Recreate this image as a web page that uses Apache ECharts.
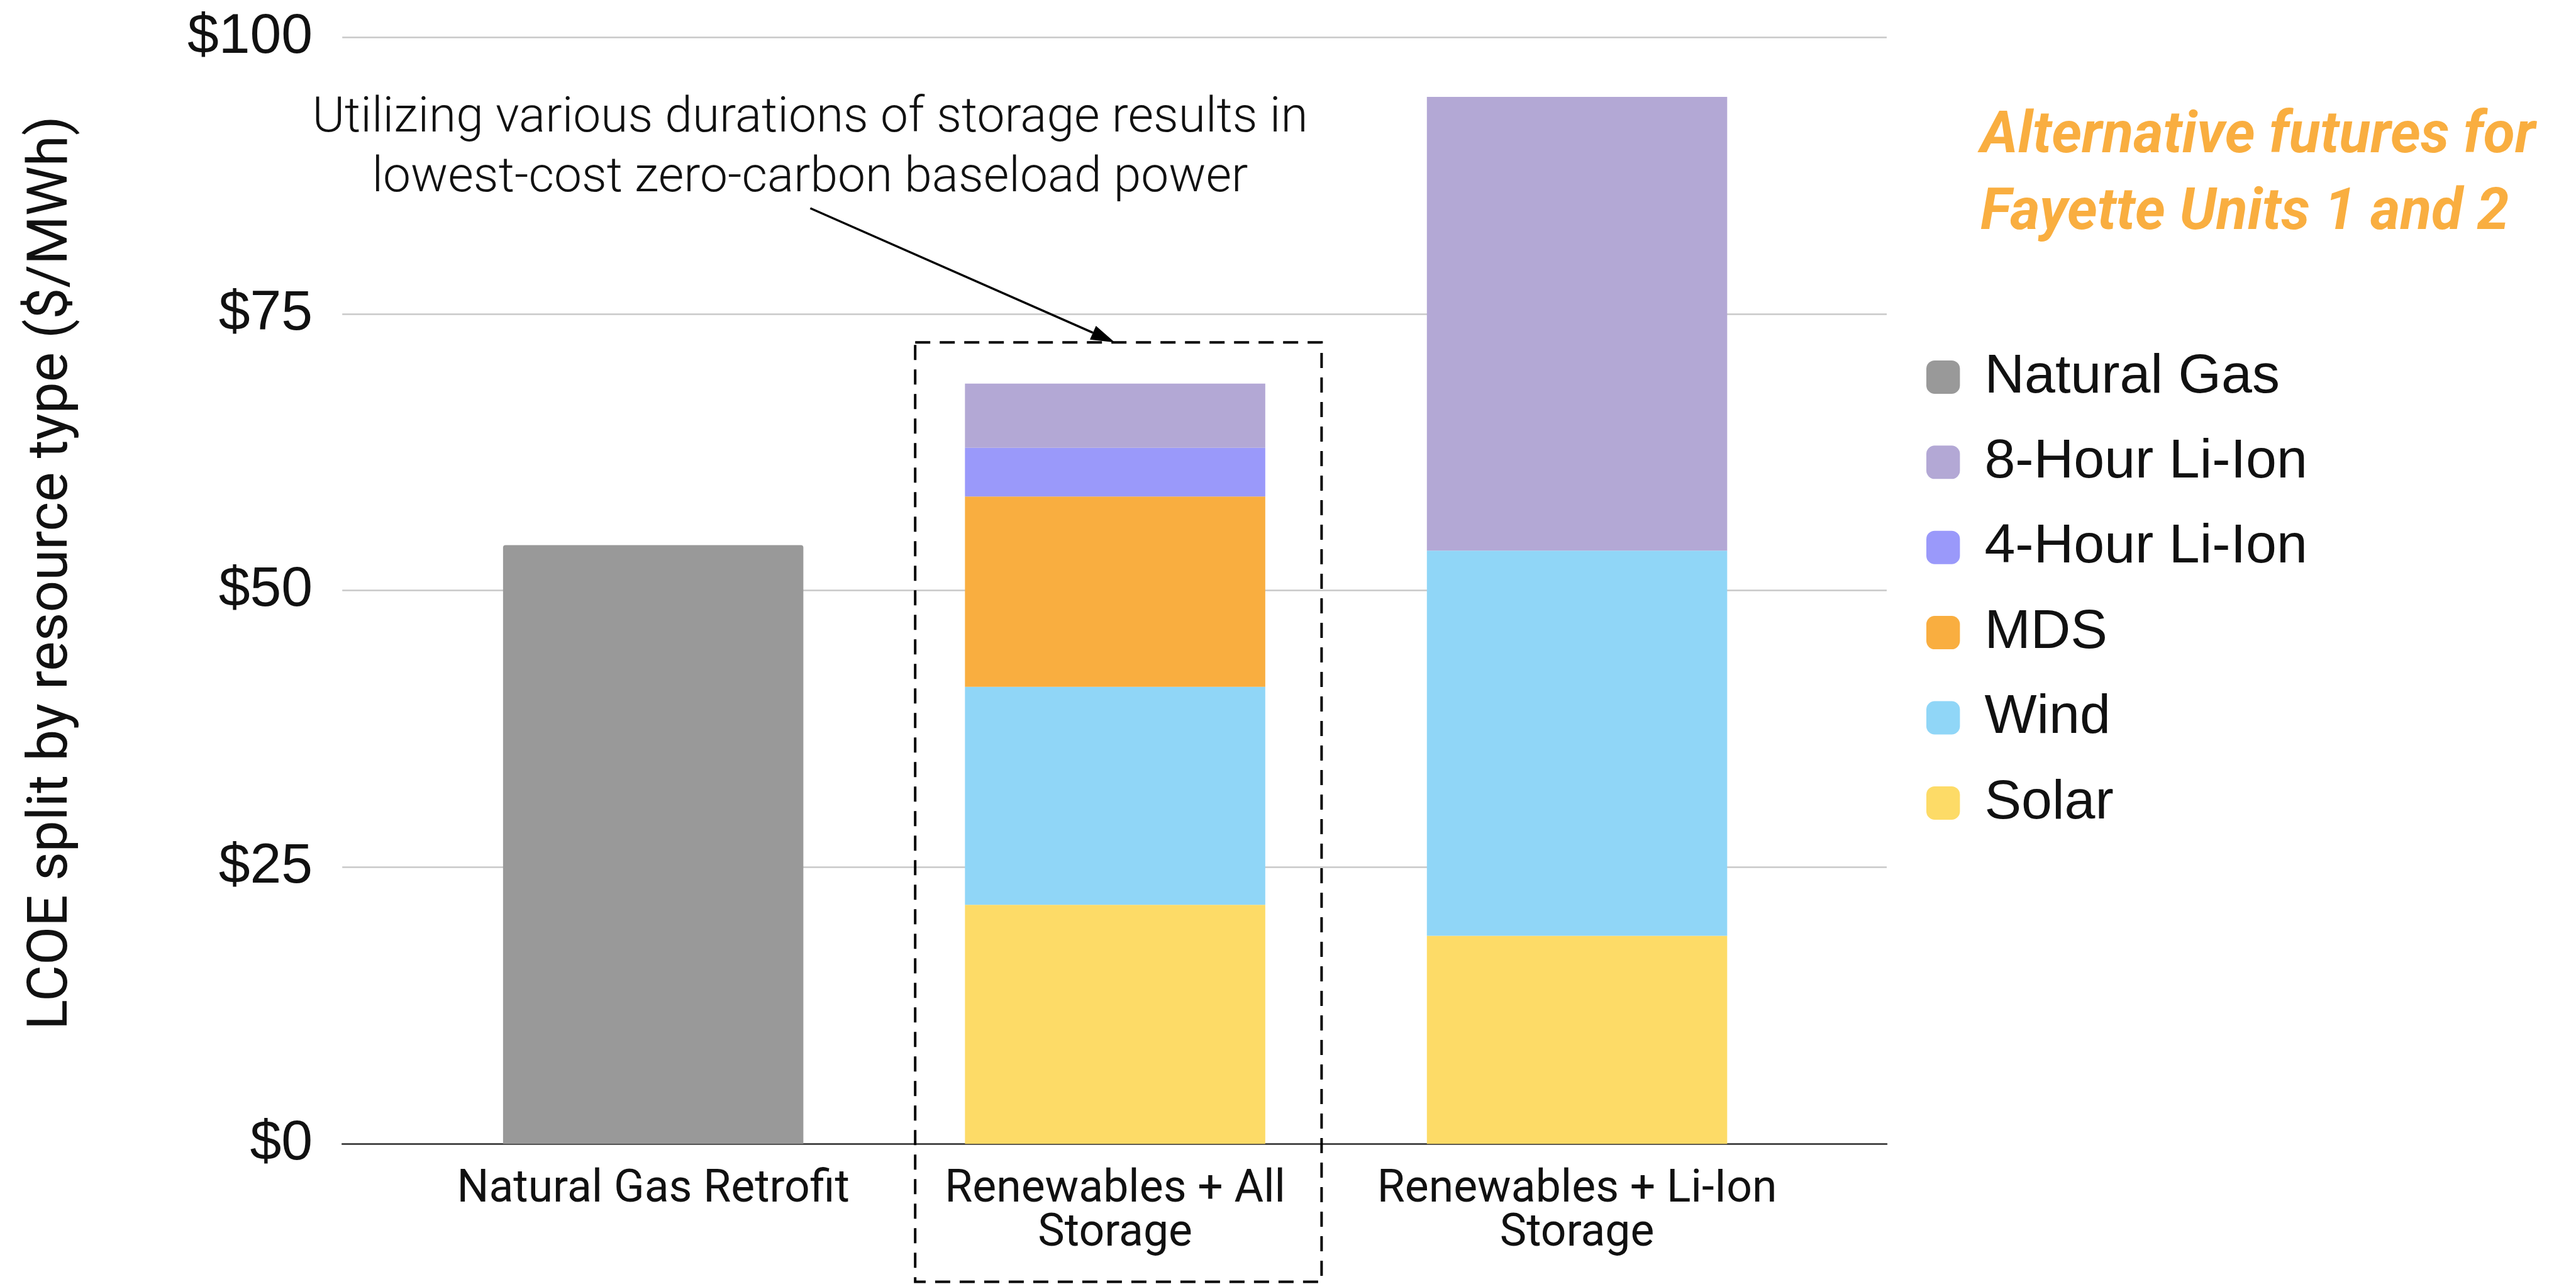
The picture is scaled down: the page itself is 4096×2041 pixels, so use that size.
<!DOCTYPE html>
<html>
<head>
<meta charset="utf-8">
<style>
  html, body { margin: 0; padding: 0; background: #ffffff; }
  #chart { width: 4096px; height: 2041px; }
</style>
<script src="https://cdn.jsdelivr.net/npm/echarts@6/dist/echarts.min.js"></script>
</head>
<body>
<div id="chart"></div>
<script>
// Levelized cost of energy by scenario, split by resource type ($/MWh)
const categories = ['Natural Gas Retrofit', 'Renewables + All Storage', 'Renewables + Li-Ion Storage'];
const yTicks = { min: 0, max: 100, step: 25 };

const naturalGas = [54.1, '-', '-'];
const solar      = ['-', 21.6, 18.8];
const wind       = ['-', 19.7, 34.8];
const mds        = ['-', 17.2, '-'];
const liIon4h    = ['-', 4.4, '-'];
const liIon8h    = ['-', 5.8, 41.0];

const legendOrder = ['Natural Gas', '8-Hour Li-Ion', '4-Hour Li-Ion', 'MDS', 'Wind', 'Solar'];

const colors = {
  'Natural Gas': '#999999',
  '8-Hour Li-Ion': '#B3A8D5',
  '4-Hour Li-Ion': '#9A99FA',
  'MDS': '#F9AE40',
  'Wind': '#90D6F7',
  'Solar': '#FDDB67'
};

const plotTop = 59.1;
const plotHeight = 1759.2;

function barSeries(name, data, extra) {
  return Object.assign({
    name: name,
    type: 'bar',
    stack: 'lcoe',
    xAxisIndex: 1,
    yAxisIndex: 1,
    barWidth: 477.5,
    data: data,
    itemStyle: { color: colors[name] },
    emphasis: { disabled: true }
  }, extra || {});
}

const chart = echarts.init(document.getElementById('chart'), null, { renderer: 'canvas' });

// arrow from the note down to the highlighted scenario box
const tail = [1288.4, 331];
const tip = [1772.6, 544.2];
const len = Math.hypot(tip[0] - tail[0], tip[1] - tail[1]);
const ux = (tip[0] - tail[0]) / len, uy = (tip[1] - tail[1]) / len;
const headLen = 38, headHalf = 12;
const base = [tip[0] - ux * headLen, tip[1] - uy * headLen];
const head = [
  tip,
  [base[0] - uy * headHalf, base[1] + ux * headHalf],
  [base[0] + uy * headHalf, base[1] - ux * headHalf]
];

chart.setOption({
  backgroundColor: '#ffffff',
  animation: false,
  title: {
    text: 'Alternative futures for\nFayette Units 1 and 2',
    left: 3149,
    top: 157.7,
    padding: 0,
    textStyle: {
      fontFamily: 'Roboto',
      fontStyle: 'italic',
      fontWeight: 'bold',
      fontSize: 91.5,
      lineHeight: 122,
      color: '#F9AE40'
    }
  },
  legend: {
    orient: 'vertical',
    left: 3063,
    top: 555.4,
    padding: 0,
    itemWidth: 53.4,
    itemHeight: 53,
    itemGap: 47.4,
    icon: 'roundRect',
    selectedMode: false,
    data: legendOrder,
    textStyle: {
      fontFamily: 'Liberation Sans',
      fontSize: 88,
      lineHeight: 88,
      color: '#111111',
      padding: [0, 0, 0, 34]
    }
  },
  grid: [
    { left: 544.2, top: plotTop, width: 2455.8, height: plotHeight },
    { left: 671.4, top: plotTop, width: 2203.4, height: plotHeight }
  ],
  xAxis: [
    {
      gridIndex: 0,
      type: 'value',
      min: 0,
      max: 1,
      axisLine: { show: true, lineStyle: { color: '#333333', width: 2.5 } },
      axisTick: { show: false },
      axisLabel: { show: false },
      splitLine: { show: false }
    },
    {
      gridIndex: 1,
      type: 'category',
      data: categories,
      axisLine: { show: false },
      axisTick: { show: false },
      splitLine: { show: false },
      axisLabel: {
        interval: 0,
        margin: 38.6,
        fontFamily: 'Roboto',
        fontSize: 71.5,
        lineHeight: 70,
        color: '#111111',
        formatter: v => v.replace(' Storage', '\nStorage')
      }
    }
  ],
  yAxis: [
    {
      gridIndex: 0,
      type: 'value',
      min: yTicks.min,
      max: yTicks.max,
      interval: yTicks.step,
      axisLine: { show: false },
      axisTick: { show: false },
      splitLine: { show: true, lineStyle: { color: '#C8C8C8', width: 2.5 } },
      axisLabel: {
        margin: 47,
        fontFamily: 'Liberation Sans',
        fontSize: 89.6,
        color: '#111111',
        formatter: v => '$' + v
      }
    },
    {
      gridIndex: 1,
      type: 'value',
      min: yTicks.min,
      max: yTicks.max,
      interval: yTicks.step,
      show: false,
      splitLine: { show: false }
    }
  ],
  series: [
    barSeries('Natural Gas', naturalGas, { itemStyle: { color: colors['Natural Gas'], borderRadius: [4, 4, 0, 0] } }),
    barSeries('Solar', solar),
    barSeries('Wind', wind),
    barSeries('MDS', mds),
    barSeries('4-Hour Li-Ion', liIon4h),
    barSeries('8-Hour Li-Ion', liIon8h)
  ],
  graphic: [
    {
      type: 'text',
      x: 83.5,
      y: 910.6,
      rotation: Math.PI / 2,
      style: {
        text: 'LCOE split by resource type ($/MWh)',
        fontFamily: 'Roboto',
        fontSize: 89,
        fill: '#111111',
        align: 'center',
        verticalAlign: 'middle'
      }
    },
    {
      type: 'text',
      x: 1288,
      y: 236.5,
      style: {
        text: 'Utilizing various durations of storage results in\nlowest-cost zero-carbon baseload power',
        fontFamily: 'Roboto',
        fontWeight: 300,
        fontSize: 78.5,
        lineHeight: 95,
        fill: '#111111',
        align: 'center',
        verticalAlign: 'middle'
      }
    },
    {
      type: 'rect',
      shape: { x: 1455.2, y: 544.2, width: 646.2, height: 1493.3 },
      style: { fill: null, stroke: '#000000', lineWidth: 4, lineDash: [24, 15] },
      z: 10
    },
    {
      type: 'line',
      shape: { x1: tail[0], y1: tail[1], x2: base[0], y2: base[1] },
      style: { stroke: '#000000', lineWidth: 3.5 },
      z: 11
    },
    {
      type: 'polygon',
      shape: { points: head },
      style: { fill: '#000000' },
      z: 11
    }
  ]
});
</script>
</body>
</html>
